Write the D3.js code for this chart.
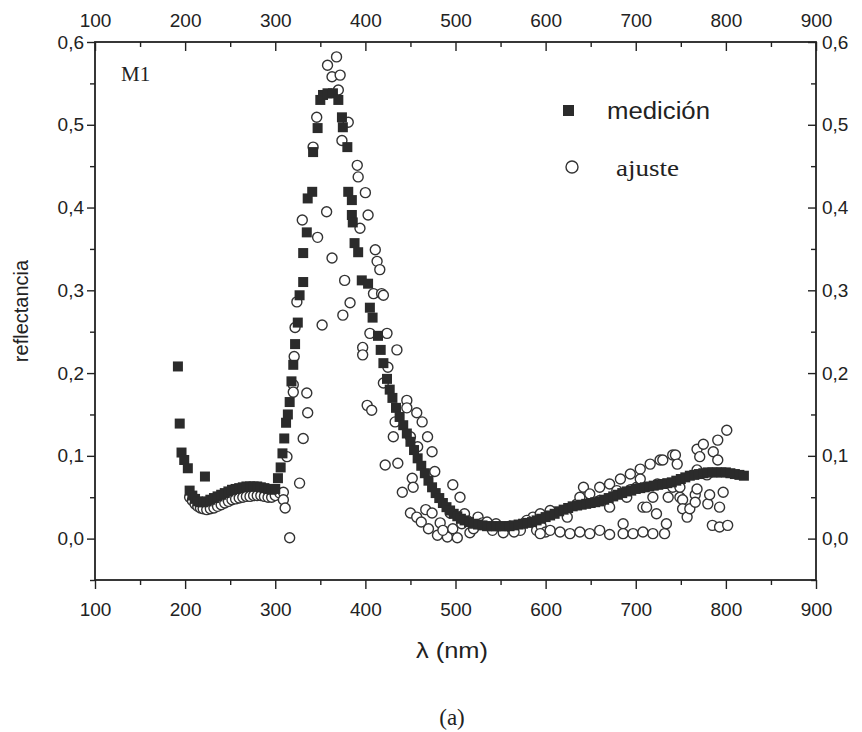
<!DOCTYPE html>
<html>
<head>
<meta charset="utf-8">
<script src="https://cdn.jsdelivr.net/npm/d3@7"></script>
<style>
  body { margin: 0; background: #fff; }
  svg text { fill: #222; }
</style>
</head>
<body>
<div class="chart-box"></div>
<script>
// medición (filled squares) as [lambda nm, reflectancia]
var medicion = [
  [192,0.208],[194,0.139],[196,0.104],[199,0.095],[203,0.085],[222,0.075],
  [205,0.058],[208,0.052],[211,0.048],[214,0.045],[217,0.044],[220,0.044],[224,0.045],[228,0.047],
  [232,0.049],[236,0.051],[240,0.053],[244,0.055],[248,0.057],[252,0.059],[256,0.060],[260,0.061],
  [264,0.062],[268,0.063],[272,0.063],[276,0.063],[280,0.063],[284,0.062],[288,0.061],[292,0.060],
  [296,0.059],[300,0.060],
  [303,0.073],[306,0.086],[308,0.103],[310,0.121],[312,0.140],[314,0.150],[316,0.165],[318,0.190],
  [320,0.210],[322,0.235],[325,0.261],[327,0.294],[331,0.310],[331,0.345],[335,0.370],[336,0.411],
  [341,0.419],[342,0.467],[347,0.496],[350,0.530],[353,0.536],[358,0.538],[364,0.538],[370,0.530],
  [374,0.509],[375,0.497],[380,0.473],[381,0.419],[385,0.409],[385,0.391],[386,0.382],[388,0.357],
  [392,0.346],[396,0.312],[403,0.308],[405,0.279],[408,0.267],
  [414,0.245],[417,0.228],[420,0.212],[424,0.193],[427,0.180],[430,0.170],[434,0.158],[438,0.147],
  [442,0.137],[446,0.127],[450,0.117],[454,0.107],[458,0.097],[462,0.088],[466,0.079],[470,0.070],
  [474,0.062],[478,0.055],[482,0.049],[486,0.043],[490,0.038],[494,0.034],[498,0.030],[502,0.027],
  [506,0.024],[510,0.022],[515,0.020],[520,0.018],[525,0.017],[530,0.016],[535,0.015],[540,0.015],
  [545,0.015],[550,0.015],[555,0.015],[560,0.015],[565,0.016],[570,0.017],[575,0.018],[580,0.019],
  [585,0.020],[590,0.022],[595,0.024],[600,0.026],[605,0.028],[610,0.030],[615,0.033],[620,0.035],
  [625,0.037],[630,0.039],[635,0.040],[640,0.041],[645,0.042],[650,0.043],[655,0.044],[660,0.045],
  [665,0.047],[670,0.049],[675,0.051],[680,0.053],[685,0.055],[690,0.057],[695,0.058],[700,0.060],
  [705,0.061],[710,0.062],[715,0.063],[720,0.064],[725,0.065],[730,0.066],[735,0.067],[740,0.068],
  [745,0.070],[750,0.072],[755,0.074],[760,0.076],[765,0.077],[770,0.078],[775,0.079],[780,0.080],
  [785,0.080],[790,0.080],[795,0.080],[800,0.080],[805,0.079],[810,0.078],[815,0.077],[820,0.076]
];

// ajuste (open circles)
var ajuste = [
  [205,0.050],[208,0.046],[211,0.042],[214,0.039],[217,0.037],[220,0.036],[224,0.035],[228,0.036],
  [232,0.037],[236,0.039],[240,0.041],[244,0.043],[248,0.045],[252,0.047],[256,0.048],[260,0.049],
  [264,0.050],[268,0.051],[272,0.051],[276,0.052],[280,0.052],[284,0.052],[288,0.051],[292,0.050],
  [296,0.050],[300,0.052],[305,0.055],
  [309,0.056],[309,0.047],[311,0.037],[313,0.099],[316,0.001],[320,0.186],[320,0.177],[321,0.220],
  [322,0.255],[324,0.286],[327,0.067],[331,0.121],[330,0.385],[335,0.176],[336,0.152],[342,0.473],
  [346,0.509],[347,0.364],[352,0.258],[357,0.395],[358,0.572],[363,0.558],[363,0.339],[368,0.582],
  [370,0.542],[372,0.560],[374,0.481],[375,0.270],[377,0.312],[381,0.503],[383,0.285],[391,0.451],
  [392,0.437],[394,0.375],[400,0.418],[403,0.391],[405,0.248],[411,0.349],[409,0.296],[413,0.335],
  [416,0.325],[418,0.296],[420,0.294],[424,0.248],[397,0.231],[397,0.222],[402,0.161],[407,0.155],
  [420,0.188],[425,0.207],[435,0.228],[446,0.167],[446,0.158],[457,0.152],[463,0.141],[433,0.141],
  [431,0.123],[450,0.123],[469,0.123],[458,0.111],[474,0.105],[422,0.089],[436,0.091],[477,0.081],
  [452,0.073],[453,0.062],[441,0.056],[497,0.065],[505,0.050],[450,0.031],[457,0.026],[467,0.035],
  [474,0.031],[483,0.019],[494,0.031],[480,0.004],[491,0.002],[502,0.001],[516,0.007],[525,0.026],
  [530,0.019],[513,0.022],[541,0.010],[553,0.007],[572,0.010],[586,0.026],[590,0.010],
  [462,0.020],[470,0.012],[486,0.010],[497,0.012],[507,0.018],[510,0.030],[520,0.012],[535,0.020],
  [545,0.018],[560,0.015],[565,0.008],[578,0.020],[595,0.015],[600,0.008],
  [579,0.022],[594,0.030],[594,0.006],[605,0.034],[605,0.010],[616,0.008],[624,0.026],[627,0.006],
  [635,0.042],[638,0.050],[638,0.008],[642,0.062],[649,0.054],[649,0.006],[660,0.062],[660,0.046],
  [660,0.010],[671,0.066],[671,0.038],[671,0.005],[679,0.058],[683,0.072],[686,0.018],[686,0.006],
  [690,0.050],[694,0.078],[694,0.059],[697,0.006],[701,0.062],[705,0.084],[705,0.072],[708,0.038],
  [708,0.008],[712,0.038],[716,0.090],[719,0.050],[719,0.006],[723,0.030],[724,0.066],[727,0.095],
  [730,0.095],[732,0.006],[734,0.018],[736,0.050],[741,0.101],[741,0.062],[744,0.101],[746,0.090],
  [749,0.050],[749,0.062],[752,0.047],[752,0.036],[757,0.026],[760,0.036],[766,0.053],[766,0.044],
  [768,0.060],[768,0.083],[768,0.108],[771,0.099],[775,0.114],[779,0.077],[780,0.042],[782,0.053],
  [785,0.016],[786,0.105],[791,0.119],[791,0.095],[793,0.038],[793,0.014],[797,0.056],[801,0.131],
  [802,0.016]
];

var xMajor = [100, 200, 300, 400, 500, 600, 700, 800, 900];
var xMinor = [150, 250, 350, 450, 550, 650, 750, 850];
var yMajor = [0, 0.1, 0.2, 0.3, 0.4, 0.5, 0.6];
var yMinor = [-0.05, 0.05, 0.15, 0.25, 0.35, 0.45, 0.55];

var width = 862, height = 732;
var x = d3.scaleLinear().domain([100, 900]).range([95, 816]);
var y = d3.scaleLinear().domain([-0.05, 0.6]).range([580, 42]);

var svg = d3.select('.chart-box').append('svg')
    .attr('width', width)
    .attr('height', height)
    .style('font-family', '"Liberation Sans", Arial, sans-serif');

var serif = '"Liberation Serif", "Times New Roman", serif';
var comma = function (d) { return d3.format('.1f')(d).replace('.', ','); };

// axis helper: majors with labels, minors without
function drawAxis(axisFn, scale, tx, ty, inner, minorInner, pad, fmt) {
  var majors = scale === y ? yMajor : xMajor;
  var minors = scale === y ? yMinor : xMinor;
  var g = svg.append('g').attr('transform', 'translate(' + tx + ',' + ty + ')');
  g.call(axisFn(scale).tickValues(majors)
      .tickSizeInner(inner).tickSizeOuter(0).tickPadding(pad).tickFormat(fmt));
  var m = svg.append('g').attr('transform', 'translate(' + tx + ',' + ty + ')');
  m.call(axisFn(scale).tickValues(minors)
      .tickSizeInner(minorInner).tickSizeOuter(0).tickFormat(''));
  [g, m].forEach(function (s) {
    s.select('.domain').remove();
    s.selectAll('line').attr('stroke', '#222').attr('stroke-width', 1.4);
    s.selectAll('text').style('font-size', '19px').attr('fill', '#222');
  });
  return g;
}

drawAxis(d3.axisBottom, x, 0, 580, 9, 5, 14, d3.format('d'));
drawAxis(d3.axisTop, x, 0, 42, -9, -5, 15, d3.format('d'));
drawAxis(d3.axisLeft, y, 95, 0, 8, 5, 3, comma);
drawAxis(d3.axisRight, y, 816, 0, -8, -5, 6, comma);

// frame
svg.append('rect')
    .attr('x', x(100)).attr('y', y(0.6))
    .attr('width', x(900) - x(100)).attr('height', y(-0.05) - y(0.6))
    .attr('fill', 'none').attr('stroke', '#222').attr('stroke-width', 1.8);

// ajuste circles underneath, medición squares on top
svg.append('g').selectAll('circle')
    .data(ajuste).enter().append('circle')
    .attr('cx', function (d) { return x(d[0]); })
    .attr('cy', function (d) { return y(d[1]); })
    .attr('r', 5)
    .attr('fill', '#fff')
    .attr('stroke', '#333')
    .attr('stroke-width', 1.4);

svg.append('g').selectAll('rect')
    .data(medicion).enter().append('rect')
    .attr('x', function (d) { return x(d[0]) - 5; })
    .attr('y', function (d) { return y(d[1]) - 5; })
    .attr('width', 10).attr('height', 10)
    .attr('fill', '#2b2b2b');

// legend
svg.append('rect').attr('x', 563).attr('y', 105).attr('width', 11).attr('height', 11).attr('fill', '#2b2b2b');
svg.append('text').attr('x', 607).attr('y', 119).style('font-size', '23px')
    .attr('textLength', 103).attr('lengthAdjust', 'spacingAndGlyphs').text('medición');
svg.append('circle').attr('cx', 572).attr('cy', 167).attr('r', 6)
    .attr('fill', '#fff').attr('stroke', '#333').attr('stroke-width', 1.4);
svg.append('text').attr('x', 616).attr('y', 176)
    .style('font-family', serif).style('font-size', '24px')
    .attr('textLength', 63).attr('lengthAdjust', 'spacingAndGlyphs').text('ajuste');

svg.append('text').attr('x', 121).attr('y', 81)
    .style('font-family', serif).style('font-size', '21px').text('M1');

// axis titles
svg.append('text').attr('x', 452).attr('y', 658).attr('text-anchor', 'middle')
    .style('font-size', '22px').attr('textLength', 72).attr('lengthAdjust', 'spacingAndGlyphs').text('λ (nm)');
svg.append('text').attr('transform', 'translate(28,311) rotate(-90)').attr('text-anchor', 'middle')
    .style('font-size', '20px').text('reflectancia');
svg.append('text').attr('x', 452).attr('y', 725).attr('text-anchor', 'middle')
    .style('font-family', serif).style('font-size', '23px').text('(a)');
</script>
</body>
</html>
